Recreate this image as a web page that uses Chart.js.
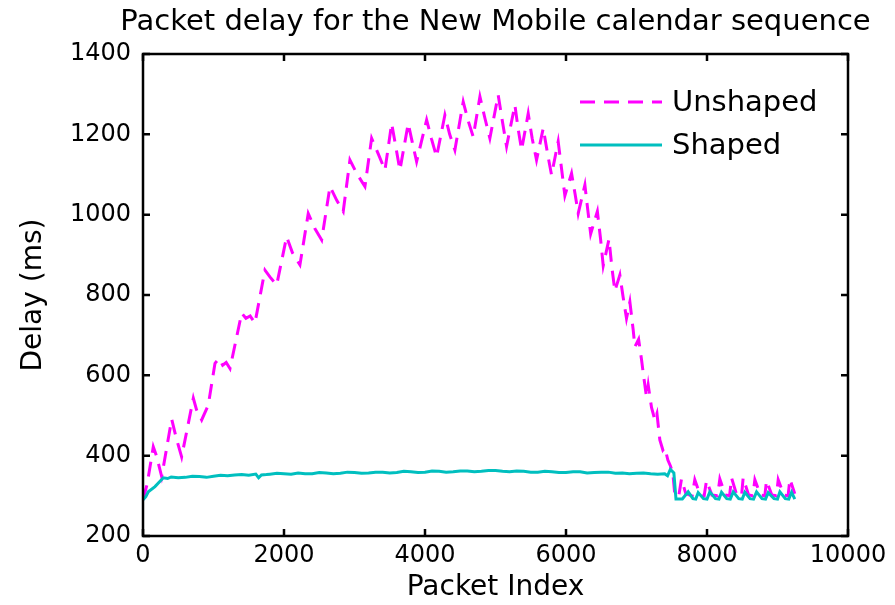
<!DOCTYPE html>
<html>
<head>
<meta charset="utf-8">
<title>Packet delay</title>
<script src="https://cdn.jsdelivr.net/npm/chart.js@4.4.1/dist/chart.umd.min.js"></script>
<style>
    html, body { margin: 0; padding: 0; background: #fff; }
</style>
</head>
<body>
<canvas id="delayChart" width="895" height="605"></canvas>
<script>
// Values (packet index, delay in ms)
const unshapedIndex = [0, 60, 146, 190, 265, 407, 470, 548, 714, 760,
    832, 926, 1021, 1080, 1130, 1180, 1234, 1400, 1460, 1520,
    1588, 1730, 1800, 1896, 2037, 2120, 2226, 2344, 2440, 2534,
    2652, 2750, 2840, 2935, 3040, 3148, 3243, 3340, 3432, 3527,
    3590, 3644, 3762, 3820, 3881, 4023, 4090, 4164, 4282, 4350,
    4424, 4542, 4610, 4684, 4779, 4850, 4920, 5038, 5100, 5157,
    5275, 5320, 5370, 5464, 5520, 5582, 5677, 5740, 5795, 5889,
    5940, 5984, 6079, 6130, 6173, 6268, 6310, 6350, 6445, 6490,
    6528, 6610, 6650, 6693, 6764, 6810, 6858, 6906, 6953, 6977,
    7030, 7072, 7095, 7142, 7166, 7213, 7260, 7290, 7331, 7374,
    7402, 7445, 7480, 7515, 7545, 7600, 7638, 7700, 7790, 7827,
    7900, 7960, 7993, 8070, 8150, 8182, 8260, 8320, 8348, 8420,
    8490, 8513, 8590, 8650, 8679, 8760, 8820, 8844, 8920, 8985,
    9010, 9090, 9150, 9176, 9245];
const unshapedDelay = [290, 330, 422, 400, 348, 491, 445, 397, 543, 514,
    489, 526, 630, 642, 625, 632, 617, 755, 742, 748,
    730, 862, 845, 825, 945, 905, 875, 1003, 965, 937,
    1070, 1035, 1008, 1136, 1100, 1070, 1190, 1150, 1111, 1227,
    1165, 1111, 1227, 1180, 1132, 1236, 1190, 1144, 1248, 1200,
    1161, 1281, 1235, 1194, 1294, 1240, 1190, 1298, 1230, 1170,
    1273, 1215, 1161, 1252, 1190, 1136, 1215, 1150, 1099, 1182,
    1110, 1047, 1103, 1050, 1003, 1074, 1010, 952, 1008, 940,
    873, 939, 870, 810, 850, 795, 742, 783, 713, 671,
    690, 638, 606, 546, 576, 520, 489, 505, 439, 414,
    420, 389, 375, 357, 300, 300, 342, 305, 300, 340,
    303, 300, 338, 302, 300, 342, 302, 300, 345, 303,
    300, 345, 302, 300, 340, 302, 300, 338, 302, 300,
    340, 302, 300, 342, 305];

const shapedIndex = [0, 40, 75, 170, 288, 350, 400, 500, 600, 700,
    800, 900, 1000, 1100, 1200, 1300, 1400, 1500, 1600, 1640,
    1680, 1750, 1800, 1900, 2000, 2100, 2200, 2300, 2400, 2500,
    2600, 2700, 2800, 2900, 3000, 3100, 3200, 3300, 3400, 3500,
    3600, 3700, 3800, 3900, 4000, 4100, 4200, 4300, 4400, 4500,
    4600, 4700, 4800, 4900, 5000, 5100, 5200, 5300, 5400, 5500,
    5600, 5700, 5800, 5900, 6000, 6100, 6200, 6300, 6400, 6500,
    6600, 6700, 6800, 6900, 7000, 7100, 7200, 7300, 7400, 7440,
    7480, 7530, 7560, 7650, 7733, 7800, 7840, 7875, 7950, 8000,
    8040, 8120, 8170, 8206, 8280, 8330, 8372, 8450, 8500, 8537,
    8610, 8660, 8703, 8780, 8830, 8868, 8950, 9000, 9034, 9110,
    9160, 9200, 9245];
const shapedDelay = [290, 298, 310, 323, 345, 343, 347, 345, 346, 349,
    348, 346, 349, 351, 350, 352, 353, 351, 354, 345,
    352, 353, 354, 356, 355, 354, 357, 355, 355, 358,
    357, 355, 356, 359, 358, 356, 357, 359, 359, 357,
    358, 361, 360, 358, 359, 362, 361, 359, 360, 362,
    362, 360, 361, 363, 363, 361, 360, 362, 361, 359,
    359, 361, 360, 358, 358, 360, 360, 357, 358, 359,
    359, 356, 357, 355, 356, 357, 355, 354, 355, 350,
    366, 357, 292, 292, 310, 293, 292, 308, 293, 292,
    310, 293, 292, 309, 293, 292, 310, 293, 292, 309,
    293, 292, 310, 293, 292, 308, 293, 292, 310, 293,
    292, 309, 292];

const seriesLabels = ['Unshaped', 'Shaped'];
const titleText = 'Packet delay for the New Mobile calendar sequence';

const MAGENTA = '#ff00ff';
const CYAN = '#00bfbf';
const DASH = [15, 9];
const TICK_LEN = 7;
const FONT = "'DejaVu Sans', sans-serif";

function toPoints(xs, ys) {
    return xs.map((x, i) => ({ x: x, y: ys[i] }));
}

// frame, inward ticks, title and the in-axes legend (matlab look)
const matlabFrame = {
    id: 'matlabFrame',
    afterDraw(chart) {
        const { ctx, chartArea: a, scales } = chart;
        const xs = scales.x;
        const ys = scales.y;
        ctx.save();

        ctx.strokeStyle = '#000';
        ctx.lineWidth = 2.5;
        ctx.strokeRect(a.left, a.top, a.right - a.left, a.bottom - a.top);

        ctx.beginPath();
        xs.ticks.forEach(t => {
            const px = xs.getPixelForValue(t.value);
            ctx.moveTo(px, a.bottom);
            ctx.lineTo(px, a.bottom - TICK_LEN);
            ctx.moveTo(px, a.top);
            ctx.lineTo(px, a.top + TICK_LEN);
        });
        ys.ticks.forEach(t => {
            const py = ys.getPixelForValue(t.value);
            ctx.moveTo(a.left, py);
            ctx.lineTo(a.left + TICK_LEN, py);
            ctx.moveTo(a.right, py);
            ctx.lineTo(a.right - TICK_LEN, py);
        });
        ctx.stroke();

        // title
        ctx.fillStyle = '#000';
        ctx.font = '29px ' + FONT;
        ctx.textAlign = 'center';
        ctx.textBaseline = 'middle';
        ctx.fillText(titleText, (a.left + a.right) / 2, 22);

        // legend
        const ds = chart.data.datasets;
        const lx = a.right - 268;
        [102, 145].forEach((ly, i) => {
            ctx.beginPath();
            ctx.strokeStyle = ds[i].borderColor;
            ctx.lineWidth = ds[i].borderWidth;
            ctx.setLineDash(ds[i].borderDash || []);
            ctx.moveTo(lx, ly);
            ctx.lineTo(lx + 82, ly);
            ctx.stroke();
            ctx.setLineDash([]);
            ctx.textAlign = 'left';
            ctx.fillText(ds[i].label, lx + 92, ly + 1);
        });

        ctx.restore();
    }
};

const ctx = document.getElementById('delayChart').getContext('2d');

new Chart(ctx, {
    type: 'line',
    data: {
        datasets: [{
            label: seriesLabels[0],
            data: toPoints(unshapedIndex, unshapedDelay),
            borderColor: MAGENTA,
            borderWidth: 3,
            borderDash: DASH,
            pointRadius: 0,
            tension: 0,
            order: 2
        }, {
            label: seriesLabels[1],
            data: toPoints(shapedIndex, shapedDelay),
            borderColor: CYAN,
            borderWidth: 3,
            pointRadius: 0,
            tension: 0,
            order: 1
        }]
    },
    options: {
        responsive: false,
        animation: false,
        events: [],
        layout: {
            padding: { left: 0, right: 47, top: 54, bottom: 0 }
        },
        plugins: {
            legend: { display: false },
            tooltip: { enabled: false }
        },
        scales: {
            x: {
                type: 'linear',
                min: 0,
                max: 10000,
                ticks: {
                    stepSize: 2000,
                    color: '#000',
                    padding: 5,
                    maxRotation: 0,
                    font: { family: FONT, size: 24 },
                    callback: v => String(v)
                },
                grid: { display: false, drawTicks: false },
                border: { display: false },
                title: {
                    display: true,
                    text: 'Packet Index',
                    color: '#000',
                    padding: { top: 0, bottom: 0 },
                    font: { family: FONT, size: 28 }
                },
                afterFit(scale) { scale.height = 69; }
            },
            y: {
                min: 200,
                max: 1400,
                ticks: {
                    stepSize: 200,
                    color: '#000',
                    padding: 12,
                    font: { family: FONT, size: 24 },
                    callback: v => String(v)
                },
                grid: { display: false, drawTicks: false },
                border: { display: false },
                title: {
                    display: true,
                    text: 'Delay (ms)',
                    color: '#000',
                    padding: { top: 17, bottom: 0 },
                    font: { family: FONT, size: 28 }
                },
                afterFit(scale) { scale.width = 143; }
            }
        }
    },
    plugins: [matlabFrame]
});
</script>
</body>
</html>
